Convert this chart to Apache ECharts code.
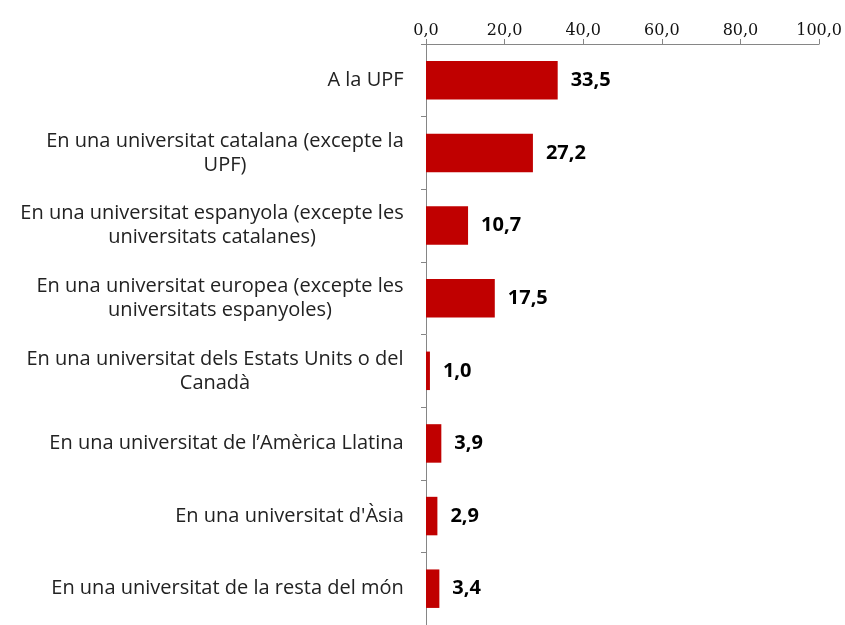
<!DOCTYPE html>
<html>
<head>
<meta charset="utf-8">
<script src="https://cdn.jsdelivr.net/npm/echarts@6/dist/echarts.min.js"></script>
<style>
  html, body { margin: 0; padding: 0; background: #fff; }
  #chart { width: 845px; height: 625px; }
</style>
</head>
<body>
<div id="chart"></div>
<script>
// categories, top to bottom
const categories = [
  'A la UPF',
  'En una universitat catalana (excepte la\nUPF)',
  'En una universitat espanyola (excepte les\nuniversitats catalanes)',
  'En una universitat europea (excepte les\nuniversitats espanyoles)',
  'En una universitat dels Estats Units o del\nCanadà',
  'En una universitat de l\u2019Amèrica Llatina',
  'En una universitat d\'Àsia',
  'En una universitat de la resta del món'
]
const values = [33.5, 27.2, 10.7, 17.5, 1.0, 3.9, 2.9, 3.4]

const fmt = (v) => v.toFixed(1).replace('.', ',')

const labelFont = '20px "Open Sans"'

// multi-line labels are centred within their block, block right-aligned to the axis
const ctx = document.createElement('canvas').getContext('2d')
ctx.font = labelFont
const rich = {}
categories.forEach((c, i) => {
  const w = Math.max(...c.split('\n').map((s) => ctx.measureText(s).width))
  rich['l' + i] = {
    width: Math.ceil(w),
    align: 'center',
    fontFamily: 'Open Sans',
    fontSize: 20,
    lineHeight: 24,
    color: '#222'
  }
})

const chart = echarts.init(document.getElementById('chart'))
chart.setOption({
  animation: false,
  grid: {
    left: 426,
    right: 23,
    top: 44,
    bottom: -9,
    containLabel: false
  },
  xAxis: {
    type: 'value',
    position: 'top',
    min: 0,
    max: 100,
    interval: 20,
    axisLine: { show: true, lineStyle: { color: '#868686' } },
    axisTick: { show: true, length: 5, lineStyle: { color: '#868686' } },
    splitLine: { show: false },
    axisLabel: {
      formatter: fmt,
      fontFamily: 'DejaVu Serif',
      fontSize: 16,
      color: '#111',
      margin: 5
    }
  },
  yAxis: {
    type: 'category',
    inverse: true,
    data: categories,
    axisLine: { show: true, lineStyle: { color: '#868686' } },
    axisTick: { show: true, length: 5, lineStyle: { color: '#868686' } },
    axisLabel: {
      align: 'right',
      margin: 22,
      formatter: (value, idx) => '{l' + idx + '|' + value + '}',
      rich
    }
  },
  series: [
    {
      type: 'bar',
      data: values,
      barWidth: '53%',
      itemStyle: { color: '#C00000' },
      label: {
        show: true,
        position: 'right',
        distance: 13,
        formatter: (p) => fmt(p.value),
        fontFamily: 'Open Sans',
        fontWeight: 'bold',
        fontSize: 20,
        color: '#000'
      }
    }
  ]
})
</script>
</body>
</html>
